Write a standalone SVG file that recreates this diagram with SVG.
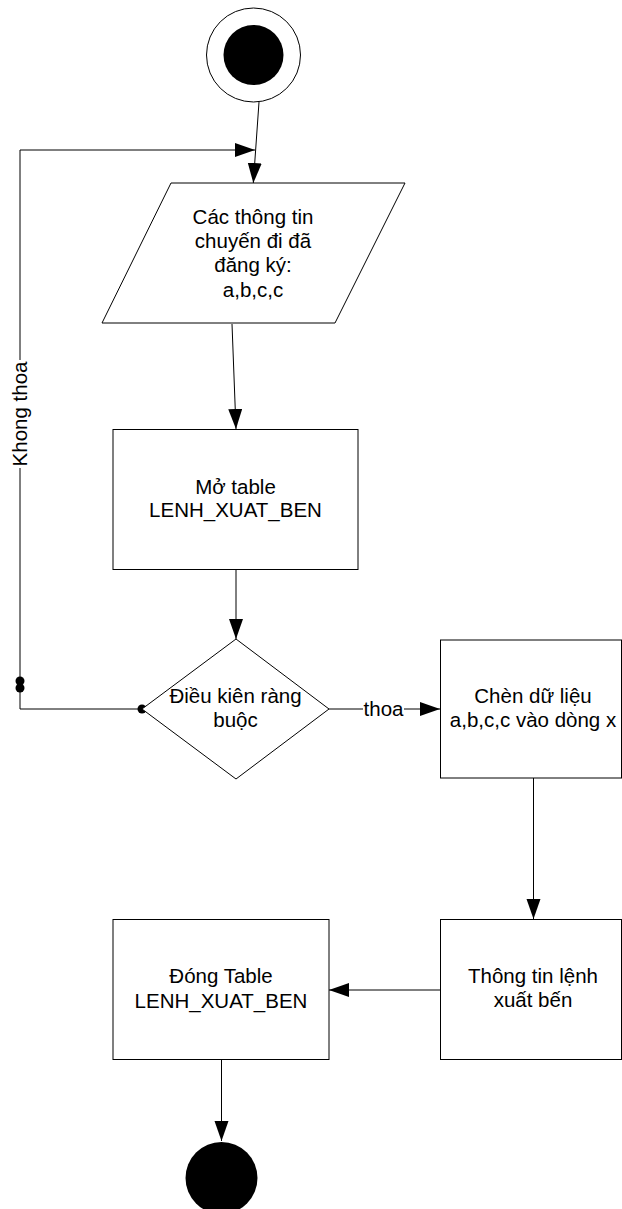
<svg xmlns="http://www.w3.org/2000/svg" width="622" height="1209" viewBox="0 0 622 1209">
  <style>
    .shape { fill: #ffffff; stroke: #000000; stroke-width: 1; }
    .edge { fill: none; stroke: #000000; stroke-width: 1; }
    .label { font-family: "Liberation Sans", Arial, sans-serif; font-size: 20.5px; fill: #000000; text-anchor: middle; }
    .dot { fill: #000000; stroke: none; }
  </style>
  <defs>
    <marker id="arrow" markerUnits="userSpaceOnUse" markerWidth="21" markerHeight="15" refX="20" refY="7" orient="auto">
      <path d="M0,0 L20,7 L0,14 z" fill="#000000"/>
    </marker>
  </defs>
  <rect x="0" y="0" width="622" height="1209" fill="#ffffff"/>

  <!-- connectors -->
  <g id="connectors">
    <!-- start -> input -->
    <path class="edge" d="M259,102 L253.3,183" marker-end="url(#arrow)"/>
    <!-- loop back when condition fails -->
    <path class="edge" d="M142,709 L20,709 L20,150 L255,150" marker-end="url(#arrow)"/>
    <circle class="dot" cx="142" cy="709" r="4.5"/>
    <circle class="dot" cx="20" cy="681" r="4.5"/>
    <circle class="dot" cx="20" cy="688" r="4.5"/>
    <rect x="12" y="360" width="16" height="108" fill="#ffffff"/>
    <text class="label" transform="translate(20,414) rotate(-90)" y="7">Khong thoa</text>
    <!-- input -> open table -->
    <path class="edge" d="M232,324 L236,429" marker-end="url(#arrow)"/>
    <!-- open table -> condition -->
    <path class="edge" d="M236,570 L236,639" marker-end="url(#arrow)"/>
    <!-- condition -> insert (ok) -->
    <path class="edge" d="M329,709 L440,709" marker-end="url(#arrow)"/>
    <rect x="363" y="698" width="41" height="22" fill="#ffffff"/>
    <text class="label" x="383.5" y="716">thoa</text>
    <!-- insert -> info -->
    <path class="edge" d="M533.5,778 L533.5,919" marker-end="url(#arrow)"/>
    <!-- info -> close table -->
    <path class="edge" d="M440,990 L329,990" marker-end="url(#arrow)"/>
    <!-- close table -> end -->
    <path class="edge" d="M221.5,1060 L221.5,1141" marker-end="url(#arrow)"/>
  </g>

  <g id="start">
    <circle class="shape" cx="253.5" cy="55" r="47"/>
    <circle class="dot" cx="253.5" cy="55" r="30"/>
  </g>

  <g id="input">
    <polygon class="shape" points="171,183 405,183 335,323 102,323"/>
    <text class="label" x="253" y="224">Các thông tin</text>
    <text class="label" x="253" y="248">chuyến đi đã</text>
    <text class="label" x="253" y="272">đăng ký:</text>
    <text class="label" x="253" y="297">a,b,c,c</text>
  </g>

  <g id="open-table">
    <rect class="shape" x="113" y="429.5" width="245" height="140"/>
    <text class="label" x="235.5" y="494">Mở table</text>
    <text class="label" x="235.5" y="517">LENH_XUAT_BEN</text>
  </g>

  <g id="condition">
    <polygon class="shape" points="236,639 329,709 236,779 142,709"/>
    <text class="label" x="235.5" y="703">Điều kiên ràng</text>
    <text class="label" x="235.5" y="727">buộc</text>
  </g>

  <g id="insert">
    <rect class="shape" x="440.5" y="640" width="181" height="138"/>
    <text class="label" x="533" y="703">Chèn dữ liệu</text>
    <text class="label" x="533" y="727">a,b,c,c vào dòng x</text>
  </g>

  <g id="info">
    <rect class="shape" x="440.5" y="919.5" width="181" height="140"/>
    <text class="label" x="533" y="983">Thông tin lệnh</text>
    <text class="label" x="533" y="1007">xuất bến</text>
  </g>

  <g id="close-table">
    <rect class="shape" x="113" y="919.5" width="216" height="140"/>
    <text class="label" x="221" y="983">Đóng Table</text>
    <text class="label" x="221" y="1008">LENH_XUAT_BEN</text>
  </g>

  <g id="end">
    <circle class="dot" cx="221.5" cy="1178" r="36"/>
  </g>
</svg>
